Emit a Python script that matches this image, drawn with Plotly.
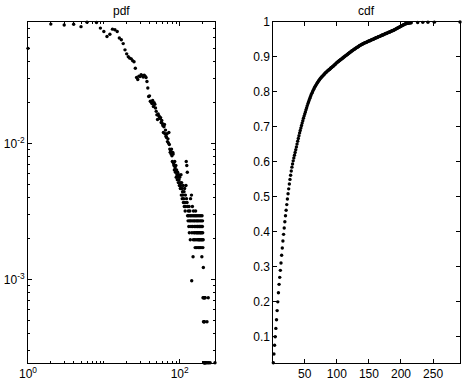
"""
pdf / cdf 双图：左为双对数坐标的概率密度散点，右为线性坐标的累积分布
"""

import numpy as np
import plotly.graph_objects as go
from plotly.subplots import make_subplots

# 样本总数（pdf = 计数 / 总数）
N_TOTAL = 4065

# pdf：度值与出现次数
pdf_degree = list(range(1, 216)) + [217, 220, 224, 229, 234, 238, 242, 252, 292]
pdf_count = [
    203, 306, 301, 305, 293, 316, 317, 314, 286, 270,
    248, 258, 281, 278, 270, 242, 235, 220, 198, 185,
    176, 172, 170, 165, 162, 145, 124, 120, 127, 126,
    130, 128, 125, 129, 127, 124, 116, 104, 90, 91,
    83, 82, 80, 84, 76, 81, 79, 74, 70, 66,
    61, 67, 65, 64, 62, 63, 58, 60, 57, 55,
    49, 54, 56, 48, 51, 46, 45, 48, 42, 44,
    41, 49, 40, 37, 35, 36, 34, 37, 33, 30,
    35, 34, 29, 28, 26, 30, 27, 25, 28, 23,
    26, 24, 22, 25, 23, 21, 24, 22, 20, 23,
    21, 19, 20, 24, 17, 21, 19, 16, 18, 17,
    20, 15, 16, 18, 14, 19, 15, 13, 17, 14,
    20, 30, 16, 28, 15, 25, 12, 14, 11, 13,
    12, 10, 14, 9, 11, 13, 12, 8, 16, 11,
    10, 12, 17, 4, 9, 11, 14, 10, 12, 6,
    8, 13, 11, 9, 12, 10, 8, 11, 9, 7,
    12, 13, 10, 8, 11, 9, 12, 7, 10, 9,
    11, 8, 10, 12, 9, 7, 11, 8, 10, 9,
    12, 8, 10, 7, 11, 9, 8, 10, 12, 9,
    7, 11, 8, 10, 9, 6, 12, 8, 10, 11,
    9, 7, 3, 8, 5, 2, 3, 1, 2, 3,
    1, 2, 3, 1, 1,
    3, 1, 1, 2, 1, 3, 1, 1, 1,
]

# cdf：x 与累积概率
cdf_x = list(range(1, 217)) + [226, 234, 242, 252, 292]
cdf_y = [
    0.026, 0.051, 0.076, 0.100, 0.124, 0.149, 0.175, 0.200, 0.226, 0.250,
    0.270, 0.290, 0.311, 0.333, 0.354, 0.374, 0.393, 0.411, 0.429, 0.446,
    0.462, 0.478, 0.494, 0.509, 0.523, 0.537, 0.550, 0.562, 0.574, 0.585,
    0.594, 0.603, 0.611, 0.619, 0.627, 0.635, 0.643, 0.651, 0.659, 0.667,
    0.675, 0.683, 0.690, 0.697, 0.704, 0.711, 0.718, 0.725, 0.731, 0.737,
    0.743, 0.749, 0.755, 0.761, 0.767, 0.772, 0.777, 0.782, 0.787, 0.792,
    0.796, 0.800, 0.804, 0.808, 0.812, 0.815, 0.818, 0.821, 0.824, 0.827,
    0.830, 0.833, 0.835, 0.838, 0.840, 0.842, 0.844, 0.846, 0.848, 0.850,
    0.852, 0.854, 0.856, 0.857, 0.859, 0.861, 0.862, 0.864, 0.865, 0.867,
    0.869, 0.870, 0.872, 0.873, 0.875, 0.877, 0.878, 0.880, 0.882, 0.884,
    0.885, 0.887, 0.888, 0.890, 0.891, 0.893, 0.894, 0.895, 0.897, 0.898,
    0.900, 0.901, 0.903, 0.904, 0.905, 0.907, 0.908, 0.910, 0.911, 0.913,
    0.914, 0.915, 0.917, 0.918, 0.919, 0.921, 0.922, 0.923, 0.924, 0.926,
    0.927, 0.928, 0.929, 0.930, 0.932, 0.933, 0.934, 0.935, 0.936, 0.937,
    0.938, 0.939, 0.940, 0.941, 0.941, 0.942, 0.943, 0.944, 0.945, 0.946,
    0.946, 0.947, 0.948, 0.949, 0.950, 0.950, 0.951, 0.952, 0.953, 0.954,
    0.955, 0.955, 0.956, 0.957, 0.958, 0.959, 0.959, 0.960, 0.961, 0.962,
    0.963, 0.963, 0.964, 0.965, 0.966, 0.967, 0.967, 0.968, 0.969, 0.970,
    0.971, 0.971, 0.972, 0.973, 0.974, 0.975, 0.975, 0.976, 0.977, 0.978,
    0.979, 0.980, 0.981, 0.982, 0.983, 0.984, 0.985, 0.986, 0.987, 0.988,
    0.989, 0.990, 0.991, 0.992, 0.993, 0.994, 0.995, 0.995, 0.996, 0.996,
    0.997, 0.997, 0.997, 0.998, 0.998, 0.998,
    0.9985, 0.999, 0.9993, 0.9996, 1.0,
]

# 坐标轴刻度
pdf_xticks = [1, 100]
pdf_xticktext = ['10<sup>0</sup>', '10<sup>2</sup>']
pdf_yticks = [0.001, 0.01]
pdf_yticktext = ['10<sup>-3</sup>', '10<sup>-2</sup>']
cdf_xticks = [50, 100, 150, 200, 250]
cdf_yticks = [0.1, 0.2, 0.3, 0.4, 0.5, 0.6, 0.7, 0.8, 0.9, 1.0]
cdf_yticktext = ['0.1', '0.2', '0.3', '0.4', '0.5', '0.6', '0.7', '0.8', '0.9', '1']

FONT = 'Liberation Sans, Arial, Helvetica, sans-serif'

pdf_y = np.array(pdf_count) / N_TOTAL

fig = make_subplots(rows=1, cols=2)

fig.add_trace(
    go.Scatter(
        x=pdf_degree, y=pdf_y, mode='markers',
        marker=dict(color='black', size=3.4),
        cliponaxis=False, showlegend=False,
    ),
    row=1, col=1,
)
fig.add_trace(
    go.Scatter(
        x=cdf_x, y=cdf_y, mode='markers',
        marker=dict(color='black', size=3.4),
        cliponaxis=False, showlegend=False,
    ),
    row=1, col=2,
)

axis_common = dict(
    showgrid=False, zeroline=False, automargin=False,
    showline=True, linecolor='black', linewidth=1, mirror='ticks',
    ticks='inside', ticklen=4, tickcolor='black', tickwidth=1,
    tickfont=dict(family=FONT, size=12, color='black'),
)

# 左图：双对数坐标
pdf_minor_x = [2, 3, 4, 5, 6, 7, 8, 9, 10, 20, 30, 40, 50, 60, 70, 80, 90, 200]
pdf_minor_y = [0.0003, 0.0004, 0.0005, 0.0006, 0.0007, 0.0008, 0.0009,
               0.002, 0.003, 0.004, 0.005, 0.006, 0.007, 0.008, 0.009,
               0.02, 0.03, 0.04, 0.05, 0.06, 0.07]
fig.update_xaxes(
    type='log', range=[0, np.log10(max(pdf_degree))],
    tickmode='array', tickvals=pdf_xticks, ticktext=pdf_xticktext,
    minor=dict(tickmode='array', tickvals=pdf_minor_x, ticks='inside', ticklen=2, tickcolor='black'),
    domain=[28 / 463, 215 / 463],
    **axis_common, row=1, col=1,
)
fig.update_yaxes(
    type='log', range=[np.log10(pdf_y.min()), np.log10(pdf_y.max())],
    tickmode='array', tickvals=pdf_yticks, ticktext=pdf_yticktext,
    minor=dict(tickmode='array', tickvals=pdf_minor_y, ticks='inside', ticklen=2, tickcolor='black'),
    domain=[22.3 / 385, 363 / 385],
    **axis_common, row=1, col=1,
)

# 右图：线性坐标
fig.update_xaxes(
    range=[1, max(cdf_x)],
    tickmode='array', tickvals=cdf_xticks,
    domain=[273.3 / 463, 460 / 463],
    **axis_common, row=1, col=2,
)
fig.update_yaxes(
    range=[min(cdf_y), 1.0],
    tickmode='array', tickvals=cdf_yticks, ticktext=cdf_yticktext,
    domain=[22.3 / 385, 363 / 385],
    **axis_common, row=1, col=2,
)

# 标题
for label, xc in [('pdf', (28 + 215) / 2 / 463), ('cdf', (273.3 + 460) / 2 / 463)]:
    fig.add_annotation(
        text=label, xref='paper', yref='paper', x=xc, y=1 - 11 / 385,
        xanchor='center', yanchor='middle', showarrow=False,
        font=dict(family=FONT, size=12, color='black'),
    )

fig.update_layout(
    width=463, height=385,
    margin=dict(l=0, r=0, t=0, b=0),
    paper_bgcolor='white', plot_bgcolor='white',
    font=dict(family=FONT, color='black'),
    showlegend=False,
)

# 去掉页面默认边距，使图与窗口对齐
fig.write_html(
    "out.html",
    config={'displayModeBar': False},
    post_script="document.body.style.margin='0';",
)
